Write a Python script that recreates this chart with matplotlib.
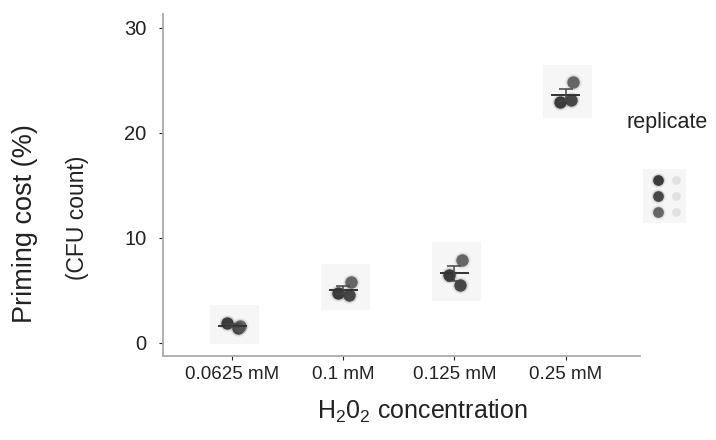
import numpy as np
import matplotlib.pyplot as plt
from matplotlib.patches import Rectangle

plt.rcParams['font.family'] = ['Liberation Sans', 'DejaVu Sans']
plt.rcParams['mathtext.fontset'] = 'custom'
plt.rcParams['mathtext.rm'] = 'Liberation Sans'

# H2O2 doses and the three replicate CFU-based priming costs (%)
doses = ['0.0625 mM', '0.1 mM', '0.125 mM', '0.25 mM']
rep1 = [1.9, 4.8, 6.5, 22.9]
rep2 = [1.4, 4.6, 5.5, 23.1]
rep3 = [1.6, 5.8, 7.9, 24.8]
rep_colors = ['#262626', '#333333', '#555555']

reps = np.array([rep1, rep2, rep3])
means = reps.mean(axis=0)
sem = reps.std(axis=0, ddof=1) / np.sqrt(reps.shape[0])
x = np.arange(len(doses))
# small horizontal offsets so replicate dots don't sit on top of each other
jitter = [-0.05, 0.05, 0.07]

fig = plt.figure(figsize=(7.16, 4.4), dpi=100)
ax = fig.add_axes([0.228, 0.191, 0.666, 0.777])
ax.set_xlim(-0.62, 3.67)
ax.set_ylim(-1.24, 31.3)


def soft_dots(ax, xs, ys, color, size=80):
    # layered dots give the soft scanned edge
    for k, a in [(1.9, 0.05), (1.45, 0.12), (1.0, 0.88)]:
        ax.scatter(xs, ys, s=size * k, color=color, alpha=a, lw=0, zorder=3)


# faint panels behind each group
for i in range(len(doses)):
    lo, hi = reps[:, i].min(), reps[:, i].max()
    ax.add_patch(Rectangle((x[i] - 0.2, lo - 1.5), 0.44, hi - lo + 3.2,
                           color='#f6f6f6', lw=0, zorder=1))

for r, c, dx in zip(reps, rep_colors, jitter):
    soft_dots(ax, x + dx, r, c)

# mean line and SEM error bars
ax.hlines(means, x - 0.13, x + 0.13, color='#333333', lw=1.4, zorder=4)
ax.errorbar(x, means, yerr=sem, fmt='none', ecolor='#444444', elinewidth=1.1,
            capsize=5, capthick=1.1, zorder=4)

ax.set_xticks(x)
ax.set_xticklabels(doses, fontsize=13.5, color='#222222')
ax.set_yticks([0, 10, 20, 30])
ax.tick_params(axis='y', labelsize=14.5, colors='#222222', length=3, pad=9)
ax.tick_params(axis='x', length=3, pad=4, colors='#222222')
for s in ['top', 'right']:
    ax.spines[s].set_visible(False)
for s in ['left', 'bottom']:
    ax.spines[s].set_color('#aaaaaa')
    ax.spines[s].set_linewidth(1.3)

fig.text(0.035, 0.493, 'Priming cost (%)', rotation=90, fontsize=19.5,
         color='#222222', ha='center', va='center')
fig.text(0.108, 0.505, '(CFU count)', rotation=90, fontsize=16.5,
         color='#222222', ha='center', va='center')
fig.text(0.59, 0.066, r'H$_\mathregular{2}$0$_\mathregular{2}$ concentration',
         fontsize=18, color='#222222', ha='center', va='center')

# replicate key
fig.text(0.932, 0.722, 'replicate', fontsize=15.5, color='#222222',
         ha='center', va='center')
key_ax = fig.add_axes([0.895, 0.49, 0.07, 0.13])
key_ax.set_xlim(0, 1)
key_ax.set_ylim(0, 4)
key_ax.axis('off')
key_ax.add_patch(Rectangle((0.05, 0.1), 0.85, 3.8, color='#f6f6f6', lw=0))
for j, c in enumerate(rep_colors):
    soft_dots(key_ax, [0.35], [3.1 - j * 1.1], c, size=60)
    key_ax.scatter([0.7], [3.1 - j * 1.1], s=40, color='#e2e2e2', lw=0)

fig.savefig('out.png', dpi=100)
